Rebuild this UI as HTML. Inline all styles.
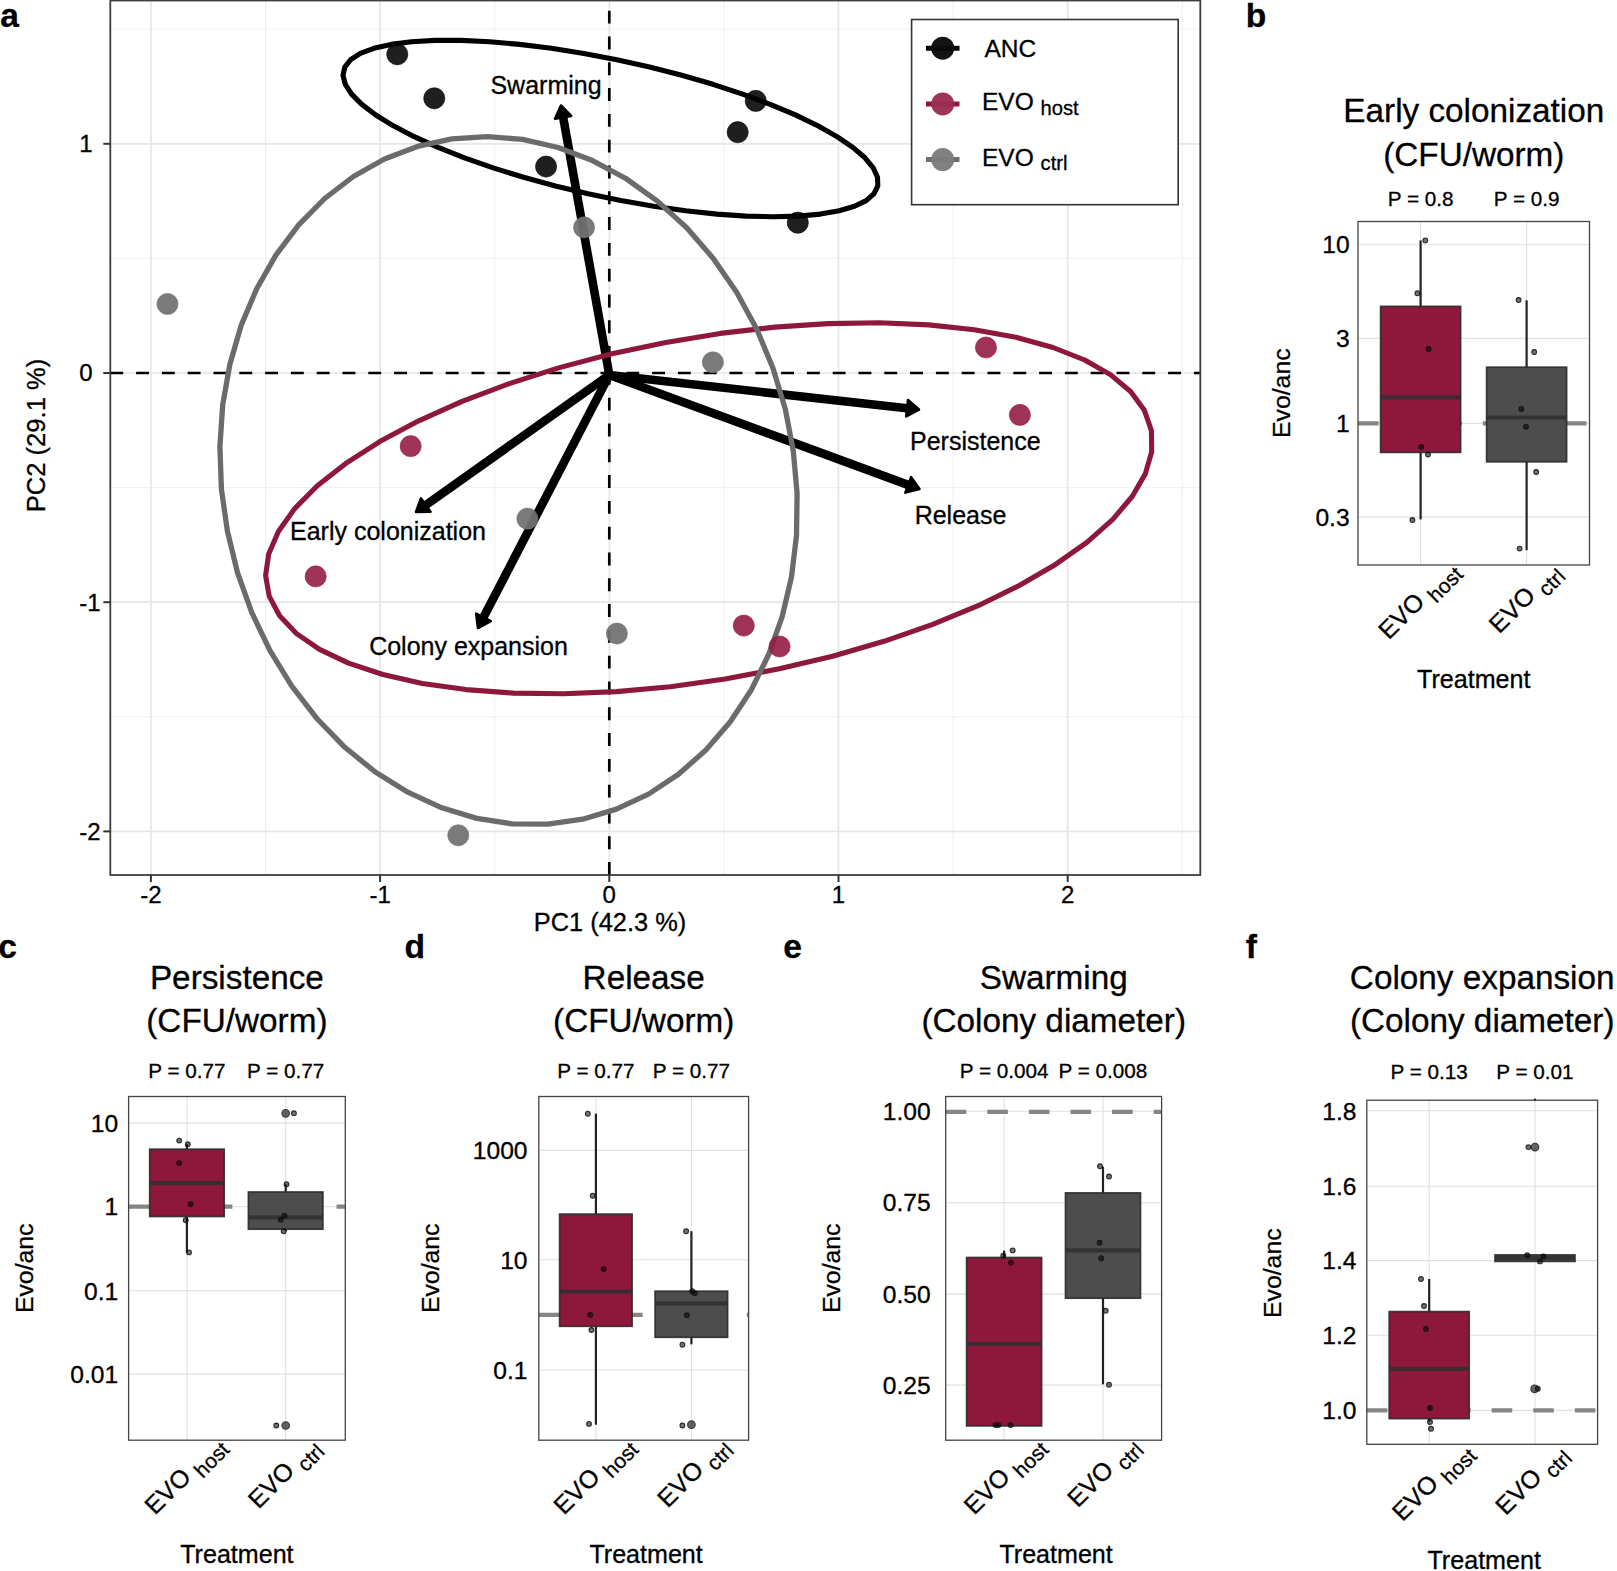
<!DOCTYPE html>
<html><head><meta charset="utf-8"><title>Figure</title>
<style>html,body{margin:0;padding:0;background:#fff}svg{display:block;font-family:"Liberation Sans", sans-serif}text{stroke:#000;stroke-width:0.3px}</style></head>
<body><svg width="1617" height="1571" viewBox="0 0 1617 1571">
<rect width="1617" height="1571" fill="#fff"/>
<rect x="110.3" y="0.5" width="1090.0" height="874.5" fill="#fff"/>
<line x1="265.5" x2="265.5" y1="0.5" y2="875.0" stroke="#ededed" stroke-width="0.9"/>
<line x1="494.7" x2="494.7" y1="0.5" y2="875.0" stroke="#ededed" stroke-width="0.9"/>
<line x1="723.9" x2="723.9" y1="0.5" y2="875.0" stroke="#ededed" stroke-width="0.9"/>
<line x1="953.1" x2="953.1" y1="0.5" y2="875.0" stroke="#ededed" stroke-width="0.9"/>
<line x1="1182.3" x2="1182.3" y1="0.5" y2="875.0" stroke="#ededed" stroke-width="0.9"/>
<line y1="716.8" y2="716.8" x1="110.3" x2="1200.3" stroke="#ededed" stroke-width="0.9"/>
<line y1="487.6" y2="487.6" x1="110.3" x2="1200.3" stroke="#ededed" stroke-width="0.9"/>
<line y1="258.4" y2="258.4" x1="110.3" x2="1200.3" stroke="#ededed" stroke-width="0.9"/>
<line y1="29.2" y2="29.2" x1="110.3" x2="1200.3" stroke="#ededed" stroke-width="0.9"/>
<line x1="150.9" x2="150.9" y1="0.5" y2="875.0" stroke="#e6e6e6" stroke-width="1.7"/>
<line x1="380.1" x2="380.1" y1="0.5" y2="875.0" stroke="#e6e6e6" stroke-width="1.7"/>
<line x1="609.3" x2="609.3" y1="0.5" y2="875.0" stroke="#e6e6e6" stroke-width="1.7"/>
<line x1="838.5" x2="838.5" y1="0.5" y2="875.0" stroke="#e6e6e6" stroke-width="1.7"/>
<line x1="1067.7" x2="1067.7" y1="0.5" y2="875.0" stroke="#e6e6e6" stroke-width="1.7"/>
<line y1="831.4" y2="831.4" x1="110.3" x2="1200.3" stroke="#e6e6e6" stroke-width="1.7"/>
<line y1="602.2" y2="602.2" x1="110.3" x2="1200.3" stroke="#e6e6e6" stroke-width="1.7"/>
<line y1="373.0" y2="373.0" x1="110.3" x2="1200.3" stroke="#e6e6e6" stroke-width="1.7"/>
<line y1="143.8" y2="143.8" x1="110.3" x2="1200.3" stroke="#e6e6e6" stroke-width="1.7"/>
<line x1="110.3" x2="1200.3" y1="373.0" y2="373.0" stroke="#000" stroke-width="2.7" stroke-dasharray="12.9 12.9"/>
<line x1="609.3" x2="609.3" y1="875.0" y2="0.5" stroke="#000" stroke-width="2.7" stroke-dasharray="12.9 12.9"/>
<line x1="609.3" y1="375.0" x2="562.8" y2="115.3" stroke="#000" stroke-width="8.6" stroke-linecap="butt"/>
<polygon points="561.0,105.5 571.2,115.9 555.0,118.8" fill="#000" stroke="#000" stroke-width="2.6" stroke-linejoin="round"/>
<line x1="609.3" y1="375.0" x2="909.1" y2="408.5" stroke="#000" stroke-width="8.6" stroke-linecap="butt"/>
<polygon points="919.0,409.6 906.2,416.4 908.0,400.1" fill="#000" stroke="#000" stroke-width="2.6" stroke-linejoin="round"/>
<line x1="609.3" y1="375.0" x2="910.1" y2="485.6" stroke="#000" stroke-width="8.6" stroke-linecap="butt"/>
<polygon points="919.5,489.0 905.4,492.6 911.1,477.2" fill="#000" stroke="#000" stroke-width="2.6" stroke-linejoin="round"/>
<line x1="609.3" y1="375.0" x2="424.2" y2="506.2" stroke="#000" stroke-width="8.6" stroke-linecap="butt"/>
<polygon points="416.0,512.0 421.0,498.4 430.5,511.8" fill="#000" stroke="#000" stroke-width="2.6" stroke-linejoin="round"/>
<line x1="609.3" y1="375.0" x2="482.6" y2="619.1" stroke="#000" stroke-width="8.6" stroke-linecap="butt"/>
<polygon points="478.0,628.0 476.2,613.6 490.8,621.1" fill="#000" stroke="#000" stroke-width="2.6" stroke-linejoin="round"/>
<circle cx="609.3" cy="375.0" r="4.3" fill="#000"/>
<path d="M877.8 185.9 L874.0 193.7 L866.2 200.6 L854.5 206.3 L839.2 210.8 L820.4 214.1 L798.4 216.1 L773.5 216.8 L746.2 216.1 L716.8 214.1 L685.8 210.8 L653.7 206.3 L620.9 200.6 L588.0 193.8 L555.4 186.0 L523.6 177.3 L493.2 167.9 L464.5 157.9 L438.1 147.4 L414.2 136.7 L393.4 125.8 L375.8 115.0 L361.8 104.4 L351.6 94.1 L345.3 84.4 L343.0 75.3 L344.8 67.1 L350.6 59.7 L360.3 53.4 L373.9 48.3 L391.0 44.4 L411.5 41.7 L434.9 40.4 L461.1 40.4 L489.5 41.7 L519.7 44.4 L551.3 48.3 L583.9 53.4 L616.8 59.7 L649.6 67.0 L681.8 75.3 L713.0 84.3 L742.6 94.1 L770.2 104.3 L795.4 114.9 L817.8 125.8 L837.0 136.6 L852.8 147.4 L865.0 157.8 L873.2 167.8 L877.5 177.3 Z" fill="none" stroke="#000" stroke-width="5.1" stroke-linejoin="round"/>
<path d="M1151.4 430.5 L1151.7 451.7 L1145.3 473.9 L1132.2 496.5 L1112.8 519.4 L1087.2 542.1 L1055.9 564.2 L1019.3 585.5 L978.1 605.7 L932.7 624.4 L884.0 641.3 L832.6 656.2 L779.3 668.8 L725.0 679.0 L670.4 686.7 L616.4 691.6 L563.8 693.7 L513.5 693.1 L466.0 689.6 L422.3 683.4 L382.9 674.5 L348.5 663.1 L319.5 649.4 L296.4 633.5 L279.6 615.8 L269.3 596.4 L265.6 575.6 L268.7 553.9 L278.4 531.4 L294.7 508.6 L317.3 485.8 L345.8 463.4 L379.8 441.6 L418.7 420.8 L462.1 401.4 L509.3 383.6 L559.4 367.6 L611.9 353.8 L665.8 342.4 L720.3 333.4 L774.7 327.1 L828.1 323.6 L879.7 322.8 L928.7 324.9 L974.3 329.8 L1016.0 337.3 L1053.0 347.5 L1084.7 360.0 L1110.8 374.9 L1130.8 391.7 L1144.4 410.3 Z" fill="none" stroke="#8E183C" stroke-width="5.1" stroke-linejoin="round"/>
<path d="M582.7 819.2 L547.8 824.1 L512.4 823.9 L476.8 818.4 L441.8 807.8 L407.8 792.2 L375.3 772.0 L344.8 747.3 L316.9 718.5 L291.8 686.2 L270.0 650.7 L251.8 612.7 L237.5 572.6 L227.4 531.2 L221.4 489.0 L219.9 446.7 L222.7 404.8 L229.9 364.2 L241.2 325.3 L256.7 288.7 L275.9 255.1 L298.7 224.9 L324.7 198.5 L353.4 176.5 L384.5 159.0 L417.5 146.4 L451.8 138.9 L487.1 136.6 L522.6 139.4 L558.0 147.5 L592.5 160.6 L625.9 178.5 L657.4 201.1 L686.7 227.8 L713.3 258.4 L736.8 292.4 L756.8 329.2 L773.0 368.3 L785.3 409.1 L793.3 451.0 L797.1 493.4 L796.5 535.5 L791.5 576.9 L782.2 616.7 L768.7 654.5 L751.4 689.7 L730.3 721.7 L705.9 750.0 L678.5 774.3 L648.5 794.1 L616.4 809.1 Z" fill="none" stroke="#6b6b6b" stroke-width="5.3" stroke-linejoin="round"/>
<circle cx="397.3" cy="54.3" r="10.6" fill="#000" fill-opacity="0.88" stroke="#000" stroke-opacity="0.55" stroke-width="1"/>
<circle cx="434.3" cy="98.3" r="10.6" fill="#000" fill-opacity="0.88" stroke="#000" stroke-opacity="0.55" stroke-width="1"/>
<circle cx="546.1" cy="166.6" r="10.6" fill="#000" fill-opacity="0.88" stroke="#000" stroke-opacity="0.55" stroke-width="1"/>
<circle cx="755.8" cy="100.9" r="10.6" fill="#000" fill-opacity="0.88" stroke="#000" stroke-opacity="0.55" stroke-width="1"/>
<circle cx="737.7" cy="132.2" r="10.6" fill="#000" fill-opacity="0.88" stroke="#000" stroke-opacity="0.55" stroke-width="1"/>
<circle cx="797.8" cy="222.7" r="10.6" fill="#000" fill-opacity="0.88" stroke="#000" stroke-opacity="0.55" stroke-width="1"/>
<circle cx="986.0" cy="347.5" r="10.6" fill="#951C45" fill-opacity="0.9" stroke="#951C45" stroke-opacity="0.55" stroke-width="1"/>
<circle cx="1019.9" cy="414.9" r="10.6" fill="#951C45" fill-opacity="0.9" stroke="#951C45" stroke-opacity="0.55" stroke-width="1"/>
<circle cx="410.7" cy="446.2" r="10.6" fill="#951C45" fill-opacity="0.9" stroke="#951C45" stroke-opacity="0.55" stroke-width="1"/>
<circle cx="315.7" cy="576.4" r="10.6" fill="#951C45" fill-opacity="0.9" stroke="#951C45" stroke-opacity="0.55" stroke-width="1"/>
<circle cx="743.8" cy="625.6" r="10.6" fill="#951C45" fill-opacity="0.9" stroke="#951C45" stroke-opacity="0.55" stroke-width="1"/>
<circle cx="779.6" cy="646.5" r="10.6" fill="#951C45" fill-opacity="0.9" stroke="#951C45" stroke-opacity="0.55" stroke-width="1"/>
<circle cx="167.5" cy="304" r="10.6" fill="#727272" fill-opacity="0.94" stroke="#727272" stroke-opacity="0.55" stroke-width="1"/>
<circle cx="584.1" cy="227.4" r="10.6" fill="#727272" fill-opacity="0.94" stroke="#727272" stroke-opacity="0.55" stroke-width="1"/>
<circle cx="712.9" cy="362.3" r="10.6" fill="#727272" fill-opacity="0.94" stroke="#727272" stroke-opacity="0.55" stroke-width="1"/>
<circle cx="527.4" cy="518.7" r="10.6" fill="#727272" fill-opacity="0.94" stroke="#727272" stroke-opacity="0.55" stroke-width="1"/>
<circle cx="616.9" cy="633.6" r="10.6" fill="#727272" fill-opacity="0.94" stroke="#727272" stroke-opacity="0.55" stroke-width="1"/>
<circle cx="458.3" cy="835.3" r="10.6" fill="#727272" fill-opacity="0.94" stroke="#727272" stroke-opacity="0.55" stroke-width="1"/>
<text x="546.0" y="94.3" font-size="25" text-anchor="middle" font-weight="normal" fill="#000" >Swarming</text>
<text x="975.3" y="450.0" font-size="25" text-anchor="middle" font-weight="normal" fill="#000" >Persistence</text>
<text x="960.5" y="523.5" font-size="25" text-anchor="middle" font-weight="normal" fill="#000" >Release</text>
<text x="388.0" y="540.3" font-size="25" text-anchor="middle" font-weight="normal" fill="#000" >Early colonization</text>
<text x="468.5" y="655.4" font-size="25" text-anchor="middle" font-weight="normal" fill="#000" >Colony expansion</text>
<rect x="110.3" y="0.5" width="1090.0" height="874.5" fill="none" stroke="#3d3d3d" stroke-width="1.8"/>
<line x1="150.9" x2="150.9" y1="875.0" y2="882.0" stroke="#333333" stroke-width="2"/>
<text x="150.9" y="902.5" font-size="24" text-anchor="middle" font-weight="normal" fill="#000" >-2</text>
<line x1="380.1" x2="380.1" y1="875.0" y2="882.0" stroke="#333333" stroke-width="2"/>
<text x="380.1" y="902.5" font-size="24" text-anchor="middle" font-weight="normal" fill="#000" >-1</text>
<line x1="609.3" x2="609.3" y1="875.0" y2="882.0" stroke="#333333" stroke-width="2"/>
<text x="609.3" y="902.5" font-size="24" text-anchor="middle" font-weight="normal" fill="#000" >0</text>
<line x1="838.5" x2="838.5" y1="875.0" y2="882.0" stroke="#333333" stroke-width="2"/>
<text x="838.5" y="902.5" font-size="24" text-anchor="middle" font-weight="normal" fill="#000" >1</text>
<line x1="1067.7" x2="1067.7" y1="875.0" y2="882.0" stroke="#333333" stroke-width="2"/>
<text x="1067.7" y="902.5" font-size="24" text-anchor="middle" font-weight="normal" fill="#000" >2</text>
<line y1="831.4" y2="831.4" x1="110.3" x2="103.3" stroke="#333333" stroke-width="2"/>
<text x="79.3" y="839.8" font-size="24" text-anchor="start" font-weight="normal" fill="#000" >-2</text>
<line y1="602.2" y2="602.2" x1="110.3" x2="103.3" stroke="#333333" stroke-width="2"/>
<text x="79.3" y="610.6" font-size="24" text-anchor="start" font-weight="normal" fill="#000" >-1</text>
<line y1="373.0" y2="373.0" x1="110.3" x2="103.3" stroke="#333333" stroke-width="2"/>
<text x="79.3" y="381.4" font-size="24" text-anchor="start" font-weight="normal" fill="#000" >0</text>
<line y1="143.8" y2="143.8" x1="110.3" x2="103.3" stroke="#333333" stroke-width="2"/>
<text x="79.3" y="152.2" font-size="24" text-anchor="start" font-weight="normal" fill="#000" >1</text>
<text x="610.0" y="930.7" font-size="25.4" text-anchor="middle" font-weight="normal" fill="#000" >PC1 (42.3 %)</text>
<text transform="translate(44.9,435.5) rotate(-90)" font-size="25.6" text-anchor="middle">PC2 (29.1 %)</text>
<rect x="911.6" y="19.5" width="266.6" height="185.2" fill="#fff" stroke="#333333" stroke-width="1.6"/>
<line x1="926" x2="959.5" y1="48.2" y2="48.2" stroke="#000" stroke-width="5"/>
<circle cx="942.7" cy="48.2" r="11.5" fill="#0a0a0a" fill-opacity="0.96"/>
<text x="984.5" y="57.0" font-size="24.5" text-anchor="start" font-weight="normal" fill="#000" >ANC</text>
<line x1="926" x2="959.5" y1="103.9" y2="103.9" stroke="#8E183C" stroke-width="5"/>
<circle cx="942.7" cy="103.9" r="11.5" fill="#9B2C52" fill-opacity="0.96"/>
<text x="982" y="110.1" font-size="24.5">EVO <tspan font-size="20.2" dy="4.6">host</tspan></text>
<line x1="926" x2="959.5" y1="159.60000000000002" y2="159.60000000000002" stroke="#6e6e6e" stroke-width="5"/>
<circle cx="942.7" cy="159.60000000000002" r="11.5" fill="#7c7c7c" fill-opacity="0.96"/>
<text x="982" y="165.8" font-size="24.5">EVO <tspan font-size="20.2" dy="4.6">ctrl</tspan></text>
<text x="0.2" y="26.6" font-size="33.6" text-anchor="start" font-weight="bold" fill="#000" >a</text>
<rect x="1358" y="221.5" width="231.5" height="343.5" fill="#fff"/>
<line x1="1358" x2="1589.5" y1="244.7" y2="244.7" stroke="#e0e0e0" stroke-width="1.1"/>
<text x="1349.6" y="253.4" font-size="24.6" text-anchor="end" font-weight="normal" fill="#000" >10</text>
<line x1="1358" x2="1589.5" y1="338.4" y2="338.4" stroke="#e0e0e0" stroke-width="1.1"/>
<text x="1349.6" y="347.1" font-size="24.6" text-anchor="end" font-weight="normal" fill="#000" >3</text>
<line x1="1358" x2="1589.5" y1="423.4" y2="423.4" stroke="#e0e0e0" stroke-width="1.1"/>
<text x="1349.6" y="432.1" font-size="24.6" text-anchor="end" font-weight="normal" fill="#000" >1</text>
<line x1="1358" x2="1589.5" y1="517.1" y2="517.1" stroke="#e0e0e0" stroke-width="1.1"/>
<text x="1349.6" y="525.8" font-size="24.6" text-anchor="end" font-weight="normal" fill="#000" >0.3</text>
<line x1="1420.6" x2="1420.6" y1="221.5" y2="565" stroke="#e0e0e0" stroke-width="1.1"/>
<line x1="1526.6" x2="1526.6" y1="221.5" y2="565" stroke="#e0e0e0" stroke-width="1.1"/>
<line x1="1358" x2="1589.5" y1="423.4" y2="423.4" stroke="#858585" stroke-width="4.2" stroke-dasharray="20.6 21"/>
<line x1="1420.6" x2="1420.6" y1="240.4" y2="306.4" stroke="#222" stroke-width="2.2"/>
<line x1="1420.6" x2="1420.6" y1="452.4" y2="519.4" stroke="#222" stroke-width="2.2"/>
<rect x="1380.6" y="306.4" width="80" height="146.0" fill="#8E183C" stroke="#2b2b2b" stroke-opacity="0.9" stroke-width="1.7"/>
<line x1="1380.6" x2="1460.6" y1="397.4" y2="397.4" stroke="#2f2f2f" stroke-opacity="0.85" stroke-width="4.2"/>
<line x1="1526.6" x2="1526.6" y1="300.3" y2="367.2" stroke="#222" stroke-width="2.2"/>
<line x1="1526.6" x2="1526.6" y1="461.8" y2="550.2" stroke="#222" stroke-width="2.2"/>
<rect x="1486.6" y="367.2" width="80" height="94.6" fill="#4D4D4D" stroke="#2b2b2b" stroke-opacity="0.9" stroke-width="1.7"/>
<line x1="1486.6" x2="1566.6" y1="417.5" y2="417.5" stroke="#2f2f2f" stroke-opacity="0.85" stroke-width="4.2"/>
<circle cx="1425.3" cy="240.4" r="2.4" fill="#000" fill-opacity="0.55" stroke="#111" stroke-opacity="0.85" stroke-width="1.1"/>
<circle cx="1417.4" cy="293.3" r="2.4" fill="#000" fill-opacity="0.55" stroke="#111" stroke-opacity="0.85" stroke-width="1.1"/>
<circle cx="1428.6" cy="349" r="2.4" fill="#000" fill-opacity="0.55" stroke="#111" stroke-opacity="0.85" stroke-width="1.1"/>
<circle cx="1421.3" cy="447" r="2.4" fill="#000" fill-opacity="0.55" stroke="#111" stroke-opacity="0.85" stroke-width="1.1"/>
<circle cx="1428" cy="454.5" r="2.4" fill="#000" fill-opacity="0.55" stroke="#111" stroke-opacity="0.85" stroke-width="1.1"/>
<circle cx="1412.4" cy="520" r="2.4" fill="#000" fill-opacity="0.55" stroke="#111" stroke-opacity="0.85" stroke-width="1.1"/>
<circle cx="1518.6" cy="300" r="2.4" fill="#000" fill-opacity="0.55" stroke="#111" stroke-opacity="0.85" stroke-width="1.1"/>
<circle cx="1534.2" cy="352" r="2.4" fill="#000" fill-opacity="0.55" stroke="#111" stroke-opacity="0.85" stroke-width="1.1"/>
<circle cx="1521.3" cy="408.9" r="2.4" fill="#000" fill-opacity="0.55" stroke="#111" stroke-opacity="0.85" stroke-width="1.1"/>
<circle cx="1526" cy="426.7" r="2.4" fill="#000" fill-opacity="0.55" stroke="#111" stroke-opacity="0.85" stroke-width="1.1"/>
<circle cx="1536.2" cy="472" r="2.4" fill="#000" fill-opacity="0.55" stroke="#111" stroke-opacity="0.85" stroke-width="1.1"/>
<circle cx="1519.6" cy="548.6" r="2.4" fill="#000" fill-opacity="0.55" stroke="#111" stroke-opacity="0.85" stroke-width="1.1"/>
<rect x="1358" y="221.5" width="231.5" height="343.5" fill="none" stroke="#444" stroke-width="1.3"/>
<text x="1473.8" y="122.0" font-size="33.3" text-anchor="middle" font-weight="normal" fill="#000" >Early colonization</text>
<text x="1473.8" y="165.5" font-size="33.3" text-anchor="middle" font-weight="normal" fill="#000" >(CFU/worm)</text>
<text x="1420.6" y="206.0" font-size="20.7" text-anchor="middle" font-weight="normal" fill="#000" >P = 0.8</text>
<text x="1526.6" y="206.0" font-size="20.7" text-anchor="middle" font-weight="normal" fill="#000" >P = 0.9</text>
<text transform="translate(1290,393.2) rotate(-90)" font-size="24.8" text-anchor="middle">Evo/anc</text>
<text transform="translate(1459.1,570.3) rotate(-45)" font-size="25" text-anchor="end">EVO <tspan font-size="21" dy="7.5">host</tspan></text>
<text transform="translate(1561.4,572.4) rotate(-45)" font-size="25" text-anchor="end">EVO <tspan font-size="21" dy="7.5">ctrl</tspan></text>
<text x="1473.8" y="687.7" font-size="25.1" text-anchor="middle" font-weight="normal" fill="#000" >Treatment</text>
<text x="1245.8" y="27.0" font-size="33.6" text-anchor="start" font-weight="bold" fill="#000" >b</text>
<rect x="128.6" y="1096.5" width="216.70000000000002" height="343.70000000000005" fill="#fff"/>
<line x1="128.6" x2="345.3" y1="1123.1" y2="1123.1" stroke="#e0e0e0" stroke-width="1.1"/>
<text x="118.2" y="1131.8" font-size="24.6" text-anchor="end" font-weight="normal" fill="#000" >10</text>
<line x1="128.6" x2="345.3" y1="1206.7" y2="1206.7" stroke="#e0e0e0" stroke-width="1.1"/>
<text x="118.2" y="1215.4" font-size="24.6" text-anchor="end" font-weight="normal" fill="#000" >1</text>
<line x1="128.6" x2="345.3" y1="1290.8" y2="1290.8" stroke="#e0e0e0" stroke-width="1.1"/>
<text x="118.2" y="1299.5" font-size="24.6" text-anchor="end" font-weight="normal" fill="#000" >0.1</text>
<line x1="128.6" x2="345.3" y1="1374.1" y2="1374.1" stroke="#e0e0e0" stroke-width="1.1"/>
<text x="118.2" y="1382.8" font-size="24.6" text-anchor="end" font-weight="normal" fill="#000" >0.01</text>
<line x1="186.9" x2="186.9" y1="1096.5" y2="1440.2" stroke="#e0e0e0" stroke-width="1.1"/>
<line x1="285.7" x2="285.7" y1="1096.5" y2="1440.2" stroke="#e0e0e0" stroke-width="1.1"/>
<line x1="128.6" x2="345.3" y1="1206.7" y2="1206.7" stroke="#858585" stroke-width="4.2" stroke-dasharray="20.6 21"/>
<line x1="186.9" x2="186.9" y1="1144.3" y2="1149.2" stroke="#222" stroke-width="2.2"/>
<line x1="186.9" x2="186.9" y1="1216.5" y2="1252.4" stroke="#222" stroke-width="2.2"/>
<rect x="149.7" y="1149.2" width="74.5" height="67.3" fill="#8E183C" stroke="#2b2b2b" stroke-opacity="0.9" stroke-width="1.7"/>
<line x1="149.7" x2="224.2" y1="1183.1" y2="1183.1" stroke="#2f2f2f" stroke-opacity="0.85" stroke-width="4.2"/>
<line x1="285.7" x2="285.7" y1="1184.3" y2="1192" stroke="#222" stroke-width="2.2"/>
<line x1="285.7" x2="285.7" y1="1229.2" y2="1231" stroke="#222" stroke-width="2.2"/>
<rect x="248.4" y="1192" width="74.5" height="37.2" fill="#4D4D4D" stroke="#2b2b2b" stroke-opacity="0.9" stroke-width="1.7"/>
<line x1="248.4" x2="322.9" y1="1217.3" y2="1217.3" stroke="#2f2f2f" stroke-opacity="0.85" stroke-width="4.2"/>
<circle cx="285.7" cy="1113.3" r="3.8" fill="#222" fill-opacity="0.7" stroke="#222" stroke-opacity="0.85" stroke-width="1.1"/>
<circle cx="285.7" cy="1425.5" r="3.8" fill="#222" fill-opacity="0.7" stroke="#222" stroke-opacity="0.85" stroke-width="1.1"/>
<circle cx="179.2" cy="1140.6" r="2.4" fill="#000" fill-opacity="0.55" stroke="#111" stroke-opacity="0.85" stroke-width="1.1"/>
<circle cx="187.8" cy="1144.3" r="2.4" fill="#000" fill-opacity="0.55" stroke="#111" stroke-opacity="0.85" stroke-width="1.1"/>
<circle cx="179.2" cy="1163.1" r="2.4" fill="#000" fill-opacity="0.55" stroke="#111" stroke-opacity="0.85" stroke-width="1.1"/>
<circle cx="190.6" cy="1204.3" r="2.4" fill="#000" fill-opacity="0.55" stroke="#111" stroke-opacity="0.85" stroke-width="1.1"/>
<circle cx="185.7" cy="1220.2" r="2.4" fill="#000" fill-opacity="0.55" stroke="#111" stroke-opacity="0.85" stroke-width="1.1"/>
<circle cx="189" cy="1252.4" r="2.4" fill="#000" fill-opacity="0.55" stroke="#111" stroke-opacity="0.85" stroke-width="1.1"/>
<circle cx="293.9" cy="1113.3" r="2.4" fill="#000" fill-opacity="0.55" stroke="#111" stroke-opacity="0.85" stroke-width="1.1"/>
<circle cx="286.5" cy="1184.3" r="2.4" fill="#000" fill-opacity="0.55" stroke="#111" stroke-opacity="0.85" stroke-width="1.1"/>
<circle cx="284.5" cy="1215.7" r="2.4" fill="#000" fill-opacity="0.55" stroke="#111" stroke-opacity="0.85" stroke-width="1.1"/>
<circle cx="280.8" cy="1219.8" r="2.4" fill="#000" fill-opacity="0.55" stroke="#111" stroke-opacity="0.85" stroke-width="1.1"/>
<circle cx="283.7" cy="1231.2" r="2.4" fill="#000" fill-opacity="0.55" stroke="#111" stroke-opacity="0.85" stroke-width="1.1"/>
<circle cx="276.3" cy="1425.5" r="2.4" fill="#000" fill-opacity="0.55" stroke="#111" stroke-opacity="0.85" stroke-width="1.1"/>
<rect x="128.6" y="1096.5" width="216.70000000000002" height="343.70000000000005" fill="none" stroke="#444" stroke-width="1.3"/>
<text x="236.9" y="988.6" font-size="33.3" text-anchor="middle" font-weight="normal" fill="#000" >Persistence</text>
<text x="236.9" y="1032.1" font-size="33.3" text-anchor="middle" font-weight="normal" fill="#000" >(CFU/worm)</text>
<text x="186.9" y="1078.1" font-size="20.7" text-anchor="middle" font-weight="normal" fill="#000" >P = 0.77</text>
<text x="285.7" y="1078.1" font-size="20.7" text-anchor="middle" font-weight="normal" fill="#000" >P = 0.77</text>
<text transform="translate(32.8,1268.3) rotate(-90)" font-size="24.8" text-anchor="middle">Evo/anc</text>
<text transform="translate(225.4,1445.5) rotate(-45)" font-size="25" text-anchor="end">EVO <tspan font-size="21" dy="7.5">host</tspan></text>
<text transform="translate(320.5,1447.6) rotate(-45)" font-size="25" text-anchor="end">EVO <tspan font-size="21" dy="7.5">ctrl</tspan></text>
<text x="236.9" y="1562.7" font-size="25.1" text-anchor="middle" font-weight="normal" fill="#000" >Treatment</text>
<text x="-1.7" y="958.0" font-size="33.6" text-anchor="start" font-weight="bold" fill="#000" >c</text>
<rect x="538.8" y="1096.5" width="209.80000000000007" height="343.70000000000005" fill="#fff"/>
<line x1="538.8" x2="748.6" y1="1150.4" y2="1150.4" stroke="#e0e0e0" stroke-width="1.1"/>
<text x="527.5" y="1159.1" font-size="24.6" text-anchor="end" font-weight="normal" fill="#000" >1000</text>
<line x1="538.8" x2="748.6" y1="1259.8" y2="1259.8" stroke="#e0e0e0" stroke-width="1.1"/>
<text x="527.5" y="1268.5" font-size="24.6" text-anchor="end" font-weight="normal" fill="#000" >10</text>
<line x1="538.8" x2="748.6" y1="1370" y2="1370" stroke="#e0e0e0" stroke-width="1.1"/>
<text x="527.5" y="1378.7" font-size="24.6" text-anchor="end" font-weight="normal" fill="#000" >0.1</text>
<line x1="595.9" x2="595.9" y1="1096.5" y2="1440.2" stroke="#e0e0e0" stroke-width="1.1"/>
<line x1="691.4" x2="691.4" y1="1096.5" y2="1440.2" stroke="#e0e0e0" stroke-width="1.1"/>
<line x1="538.8" x2="748.6" y1="1314.9" y2="1314.9" stroke="#858585" stroke-width="4.2" stroke-dasharray="20.6 21"/>
<line x1="595.9" x2="595.9" y1="1113.7" y2="1214.1" stroke="#222" stroke-width="2.2"/>
<line x1="595.9" x2="595.9" y1="1326.3" y2="1424.7" stroke="#222" stroke-width="2.2"/>
<rect x="559.6" y="1214.1" width="72.5" height="112.2" fill="#8E183C" stroke="#2b2b2b" stroke-opacity="0.9" stroke-width="1.7"/>
<line x1="559.6" x2="632.1" y1="1291.6" y2="1291.6" stroke="#2f2f2f" stroke-opacity="0.85" stroke-width="4.2"/>
<line x1="691.4" x2="691.4" y1="1231.2" y2="1291.2" stroke="#222" stroke-width="2.2"/>
<line x1="691.4" x2="691.4" y1="1337.3" y2="1344.3" stroke="#222" stroke-width="2.2"/>
<rect x="655.1" y="1291.2" width="72.5" height="46.1" fill="#4D4D4D" stroke="#2b2b2b" stroke-opacity="0.9" stroke-width="1.7"/>
<line x1="655.1" x2="727.6" y1="1303.5" y2="1303.5" stroke="#2f2f2f" stroke-opacity="0.85" stroke-width="4.2"/>
<circle cx="691.4" cy="1424.7" r="3.8" fill="#222" fill-opacity="0.7" stroke="#222" stroke-opacity="0.85" stroke-width="1.1"/>
<circle cx="587.8" cy="1113.7" r="2.4" fill="#000" fill-opacity="0.55" stroke="#111" stroke-opacity="0.85" stroke-width="1.1"/>
<circle cx="592.7" cy="1195.7" r="2.4" fill="#000" fill-opacity="0.55" stroke="#111" stroke-opacity="0.85" stroke-width="1.1"/>
<circle cx="603.7" cy="1269.2" r="2.4" fill="#000" fill-opacity="0.55" stroke="#111" stroke-opacity="0.85" stroke-width="1.1"/>
<circle cx="590.2" cy="1314.9" r="2.4" fill="#000" fill-opacity="0.55" stroke="#111" stroke-opacity="0.85" stroke-width="1.1"/>
<circle cx="591.4" cy="1330" r="2.4" fill="#000" fill-opacity="0.55" stroke="#111" stroke-opacity="0.85" stroke-width="1.1"/>
<circle cx="589" cy="1423.9" r="2.4" fill="#000" fill-opacity="0.55" stroke="#111" stroke-opacity="0.85" stroke-width="1.1"/>
<circle cx="686.1" cy="1231.2" r="2.4" fill="#000" fill-opacity="0.55" stroke="#111" stroke-opacity="0.85" stroke-width="1.1"/>
<circle cx="692.2" cy="1291.2" r="2.4" fill="#000" fill-opacity="0.55" stroke="#111" stroke-opacity="0.85" stroke-width="1.1"/>
<circle cx="694.7" cy="1293.3" r="2.4" fill="#000" fill-opacity="0.55" stroke="#111" stroke-opacity="0.85" stroke-width="1.1"/>
<circle cx="686.9" cy="1315.3" r="2.4" fill="#000" fill-opacity="0.55" stroke="#111" stroke-opacity="0.85" stroke-width="1.1"/>
<circle cx="682.4" cy="1344.7" r="2.4" fill="#000" fill-opacity="0.55" stroke="#111" stroke-opacity="0.85" stroke-width="1.1"/>
<circle cx="682.4" cy="1425.5" r="2.4" fill="#000" fill-opacity="0.55" stroke="#111" stroke-opacity="0.85" stroke-width="1.1"/>
<rect x="538.8" y="1096.5" width="209.80000000000007" height="343.70000000000005" fill="none" stroke="#444" stroke-width="1.3"/>
<text x="643.7" y="988.6" font-size="33.3" text-anchor="middle" font-weight="normal" fill="#000" >Release</text>
<text x="643.7" y="1032.1" font-size="33.3" text-anchor="middle" font-weight="normal" fill="#000" >(CFU/worm)</text>
<text x="595.9" y="1078.1" font-size="20.7" text-anchor="middle" font-weight="normal" fill="#000" >P = 0.77</text>
<text x="691.4" y="1078.1" font-size="20.7" text-anchor="middle" font-weight="normal" fill="#000" >P = 0.77</text>
<text transform="translate(439,1268.3) rotate(-90)" font-size="24.8" text-anchor="middle">Evo/anc</text>
<text transform="translate(634.4,1445.5) rotate(-45)" font-size="25" text-anchor="end">EVO <tspan font-size="21" dy="7.5">host</tspan></text>
<text transform="translate(729.7,1446.6) rotate(-45)" font-size="25" text-anchor="end">EVO <tspan font-size="21" dy="7.5">ctrl</tspan></text>
<text x="646.1" y="1562.7" font-size="25.1" text-anchor="middle" font-weight="normal" fill="#000" >Treatment</text>
<text x="404.5" y="958.0" font-size="33.6" text-anchor="start" font-weight="bold" fill="#000" >d</text>
<rect x="945.7" y="1096.5" width="215.89999999999986" height="343.70000000000005" fill="#fff"/>
<line x1="945.7" x2="1161.6" y1="1111.2" y2="1111.2" stroke="#e0e0e0" stroke-width="1.1"/>
<text x="930.7" y="1119.9" font-size="24.6" text-anchor="end" font-weight="normal" fill="#000" >1.00</text>
<line x1="945.7" x2="1161.6" y1="1202.7" y2="1202.7" stroke="#e0e0e0" stroke-width="1.1"/>
<text x="930.7" y="1211.4" font-size="24.6" text-anchor="end" font-weight="normal" fill="#000" >0.75</text>
<line x1="945.7" x2="1161.6" y1="1294.1" y2="1294.1" stroke="#e0e0e0" stroke-width="1.1"/>
<text x="930.7" y="1302.8" font-size="24.6" text-anchor="end" font-weight="normal" fill="#000" >0.50</text>
<line x1="945.7" x2="1161.6" y1="1385.1" y2="1385.1" stroke="#e0e0e0" stroke-width="1.1"/>
<text x="930.7" y="1393.8" font-size="24.6" text-anchor="end" font-weight="normal" fill="#000" >0.25</text>
<line x1="1004.1" x2="1004.1" y1="1096.5" y2="1440.2" stroke="#e0e0e0" stroke-width="1.1"/>
<line x1="1103.0" x2="1103.0" y1="1096.5" y2="1440.2" stroke="#e0e0e0" stroke-width="1.1"/>
<line x1="945.7" x2="1161.6" y1="1111.8" y2="1111.8" stroke="#858585" stroke-width="4.2" stroke-dasharray="20.6 21"/>
<line x1="1004.1" x2="1004.1" y1="1250.6" y2="1257.5" stroke="#222" stroke-width="2.2"/>
<rect x="966.6" y="1257.5" width="75" height="168.4" fill="#8E183C" stroke="#2b2b2b" stroke-opacity="0.9" stroke-width="1.7"/>
<line x1="966.6" x2="1041.6" y1="1343.9" y2="1343.9" stroke="#2f2f2f" stroke-opacity="0.85" stroke-width="4.2"/>
<line x1="1103.0" x2="1103.0" y1="1166.7" y2="1192.9" stroke="#222" stroke-width="2.2"/>
<line x1="1103.0" x2="1103.0" y1="1298.2" y2="1384.3" stroke="#222" stroke-width="2.2"/>
<rect x="1065.5" y="1192.9" width="75" height="105.3" fill="#4D4D4D" stroke="#2b2b2b" stroke-opacity="0.9" stroke-width="1.7"/>
<line x1="1065.5" x2="1140.5" y1="1250.4" y2="1250.4" stroke="#2f2f2f" stroke-opacity="0.85" stroke-width="4.2"/>
<circle cx="1003.3" cy="1255.7" r="2.4" fill="#000" fill-opacity="0.55" stroke="#111" stroke-opacity="0.85" stroke-width="1.1"/>
<circle cx="1012.7" cy="1250.4" r="2.4" fill="#000" fill-opacity="0.55" stroke="#111" stroke-opacity="0.85" stroke-width="1.1"/>
<circle cx="1011" cy="1262.7" r="2.4" fill="#000" fill-opacity="0.55" stroke="#111" stroke-opacity="0.85" stroke-width="1.1"/>
<circle cx="995.5" cy="1425.1" r="2.4" fill="#000" fill-opacity="0.55" stroke="#111" stroke-opacity="0.85" stroke-width="1.1"/>
<circle cx="998.4" cy="1425.1" r="2.4" fill="#000" fill-opacity="0.55" stroke="#111" stroke-opacity="0.85" stroke-width="1.1"/>
<circle cx="1010.6" cy="1425.1" r="2.4" fill="#000" fill-opacity="0.55" stroke="#111" stroke-opacity="0.85" stroke-width="1.1"/>
<circle cx="1100" cy="1166.3" r="2.4" fill="#000" fill-opacity="0.55" stroke="#111" stroke-opacity="0.85" stroke-width="1.1"/>
<circle cx="1109" cy="1176.5" r="2.4" fill="#000" fill-opacity="0.55" stroke="#111" stroke-opacity="0.85" stroke-width="1.1"/>
<circle cx="1099.6" cy="1242.7" r="2.4" fill="#000" fill-opacity="0.55" stroke="#111" stroke-opacity="0.85" stroke-width="1.1"/>
<circle cx="1101.2" cy="1258.2" r="2.4" fill="#000" fill-opacity="0.55" stroke="#111" stroke-opacity="0.85" stroke-width="1.1"/>
<circle cx="1105.7" cy="1310.8" r="2.4" fill="#000" fill-opacity="0.55" stroke="#111" stroke-opacity="0.85" stroke-width="1.1"/>
<circle cx="1109" cy="1384.7" r="2.4" fill="#000" fill-opacity="0.55" stroke="#111" stroke-opacity="0.85" stroke-width="1.1"/>
<rect x="945.7" y="1096.5" width="215.89999999999986" height="343.70000000000005" fill="none" stroke="#444" stroke-width="1.3"/>
<text x="1053.7" y="988.6" font-size="33.3" text-anchor="middle" font-weight="normal" fill="#000" >Swarming</text>
<text x="1053.7" y="1032.1" font-size="33.3" text-anchor="middle" font-weight="normal" fill="#000" >(Colony diameter)</text>
<text x="1004.1" y="1078.1" font-size="20.7" text-anchor="middle" font-weight="normal" fill="#000" >P = 0.004</text>
<text x="1103.0" y="1078.1" font-size="20.7" text-anchor="middle" font-weight="normal" fill="#000" >P = 0.008</text>
<text transform="translate(840,1268.3) rotate(-90)" font-size="24.8" text-anchor="middle">Evo/anc</text>
<text transform="translate(1044.5,1445.5) rotate(-45)" font-size="25" text-anchor="end">EVO <tspan font-size="21" dy="7.5">host</tspan></text>
<text transform="translate(1139.7,1446.5) rotate(-45)" font-size="25" text-anchor="end">EVO <tspan font-size="21" dy="7.5">ctrl</tspan></text>
<text x="1056.1" y="1562.7" font-size="25.1" text-anchor="middle" font-weight="normal" fill="#000" >Treatment</text>
<text x="783.3" y="958.0" font-size="33.6" text-anchor="start" font-weight="bold" fill="#000" >e</text>
<rect x="1366.8" y="1100.2" width="230.79999999999995" height="344.0999999999999" fill="#fff"/>
<line x1="1366.8" x2="1597.6" y1="1110.8" y2="1110.8" stroke="#e0e0e0" stroke-width="1.1"/>
<text x="1356.5" y="1119.5" font-size="24.6" text-anchor="end" font-weight="normal" fill="#000" >1.8</text>
<line x1="1366.8" x2="1597.6" y1="1186.3" y2="1186.3" stroke="#e0e0e0" stroke-width="1.1"/>
<text x="1356.5" y="1195.0" font-size="24.6" text-anchor="end" font-weight="normal" fill="#000" >1.6</text>
<line x1="1366.8" x2="1597.6" y1="1260.6" y2="1260.6" stroke="#e0e0e0" stroke-width="1.1"/>
<text x="1356.5" y="1269.3" font-size="24.6" text-anchor="end" font-weight="normal" fill="#000" >1.4</text>
<line x1="1366.8" x2="1597.6" y1="1335.3" y2="1335.3" stroke="#e0e0e0" stroke-width="1.1"/>
<text x="1356.5" y="1344.0" font-size="24.6" text-anchor="end" font-weight="normal" fill="#000" >1.2</text>
<line x1="1366.8" x2="1597.6" y1="1410.4" y2="1410.4" stroke="#e0e0e0" stroke-width="1.1"/>
<text x="1356.5" y="1419.1" font-size="24.6" text-anchor="end" font-weight="normal" fill="#000" >1.0</text>
<line x1="1429.2" x2="1429.2" y1="1100.2" y2="1444.3" stroke="#e0e0e0" stroke-width="1.1"/>
<line x1="1535" x2="1535" y1="1100.2" y2="1444.3" stroke="#e0e0e0" stroke-width="1.1"/>
<line x1="1366.8" x2="1597.6" y1="1410.4" y2="1410.4" stroke="#858585" stroke-width="4.2" stroke-dasharray="20.6 21"/>
<line x1="1429.2" x2="1429.2" y1="1279" y2="1311.6" stroke="#222" stroke-width="2.2"/>
<line x1="1429.2" x2="1429.2" y1="1418.6" y2="1421.5" stroke="#222" stroke-width="2.2"/>
<rect x="1389.2" y="1311.6" width="80" height="107.0" fill="#8E183C" stroke="#2b2b2b" stroke-opacity="0.9" stroke-width="1.7"/>
<line x1="1389.2" x2="1469.2" y1="1368.8" y2="1368.8" stroke="#2f2f2f" stroke-opacity="0.85" stroke-width="4.2"/>
<rect x="1495.0" y="1254.9" width="80" height="6.5" fill="#4D4D4D" stroke="#2b2b2b" stroke-opacity="0.9" stroke-width="1.7"/>
<line x1="1495.0" x2="1575.0" y1="1258" y2="1258" stroke="#2f2f2f" stroke-opacity="0.85" stroke-width="4.2"/>
<circle cx="1535" cy="1147.1" r="3.8" fill="#222" fill-opacity="0.7" stroke="#222" stroke-opacity="0.85" stroke-width="1.1"/>
<circle cx="1534.6" cy="1388.8" r="3.8" fill="#222" fill-opacity="0.7" stroke="#222" stroke-opacity="0.85" stroke-width="1.1"/>
<circle cx="1421" cy="1279" r="2.4" fill="#000" fill-opacity="0.55" stroke="#111" stroke-opacity="0.85" stroke-width="1.1"/>
<circle cx="1424" cy="1306" r="2.4" fill="#000" fill-opacity="0.55" stroke="#111" stroke-opacity="0.85" stroke-width="1.1"/>
<circle cx="1426" cy="1329" r="2.4" fill="#000" fill-opacity="0.55" stroke="#111" stroke-opacity="0.85" stroke-width="1.1"/>
<circle cx="1430" cy="1408" r="2.4" fill="#000" fill-opacity="0.55" stroke="#111" stroke-opacity="0.85" stroke-width="1.1"/>
<circle cx="1430" cy="1422" r="2.4" fill="#000" fill-opacity="0.55" stroke="#111" stroke-opacity="0.85" stroke-width="1.1"/>
<circle cx="1431" cy="1428.8" r="2.4" fill="#000" fill-opacity="0.55" stroke="#111" stroke-opacity="0.85" stroke-width="1.1"/>
<circle cx="1528.4" cy="1147.1" r="2.4" fill="#000" fill-opacity="0.55" stroke="#111" stroke-opacity="0.85" stroke-width="1.1"/>
<circle cx="1527.2" cy="1255.3" r="2.4" fill="#000" fill-opacity="0.55" stroke="#111" stroke-opacity="0.85" stroke-width="1.1"/>
<circle cx="1543.5" cy="1256.5" r="2.4" fill="#000" fill-opacity="0.55" stroke="#111" stroke-opacity="0.85" stroke-width="1.1"/>
<circle cx="1539.9" cy="1261.4" r="2.4" fill="#000" fill-opacity="0.55" stroke="#111" stroke-opacity="0.85" stroke-width="1.1"/>
<circle cx="1537.8" cy="1388.8" r="2.4" fill="#000" fill-opacity="0.55" stroke="#111" stroke-opacity="0.85" stroke-width="1.1"/>
<rect x="1366.8" y="1100.2" width="230.79999999999995" height="344.0999999999999" fill="none" stroke="#444" stroke-width="1.3"/>
<line x1="1535" x2="1535" y1="1098.6" y2="1100.6" stroke="#222" stroke-width="2.2"/>
<text x="1482.2" y="988.6" font-size="33.3" text-anchor="middle" font-weight="normal" fill="#000" >Colony expansion</text>
<text x="1482.2" y="1032.1" font-size="33.3" text-anchor="middle" font-weight="normal" fill="#000" >(Colony diameter)</text>
<text x="1429.2" y="1079.0" font-size="20.7" text-anchor="middle" font-weight="normal" fill="#000" >P = 0.13</text>
<text x="1535.0" y="1079.0" font-size="20.7" text-anchor="middle" font-weight="normal" fill="#000" >P = 0.01</text>
<text transform="translate(1280.7,1273.2) rotate(-90)" font-size="24.8" text-anchor="middle">Evo/anc</text>
<text transform="translate(1472.8,1452.0) rotate(-45)" font-size="25" text-anchor="end">EVO <tspan font-size="21" dy="7.5">host</tspan></text>
<text transform="translate(1567.9,1454.1) rotate(-45)" font-size="25" text-anchor="end">EVO <tspan font-size="21" dy="7.5">ctrl</tspan></text>
<text x="1484.2" y="1568.5" font-size="25.1" text-anchor="middle" font-weight="normal" fill="#000" >Treatment</text>
<text x="1245.8" y="958.0" font-size="33.6" text-anchor="start" font-weight="bold" fill="#000" >f</text>
</svg></body></html>
